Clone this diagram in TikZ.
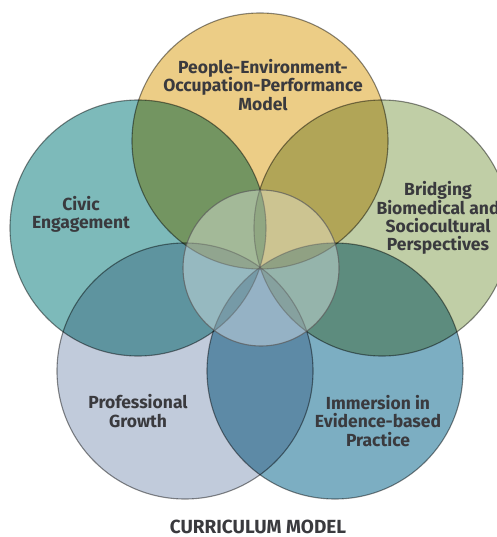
\documentclass[tikz,border=0pt]{standalone}
\usepackage{fontspec}
\setmainfont{Fira Sans}

\definecolor{peopfill}{RGB}{236,205,134}
\definecolor{civicfill}{RGB}{125,186,186}
\definecolor{bridgefill}{RGB}{192,206,166}
\definecolor{proffill}{RGB}{193,203,219}
\definecolor{immerfill}{RGB}{124,174,194}
\definecolor{lbltext}{RGB}{58,58,62}

\begin{document}
\begin{tikzpicture}[x=1pt, y=-1pt,
        ring/.style={draw=black!60, draw opacity=0.75, line width=1.1pt, circle, minimum size=256pt, inner sep=0pt},
        lbl/.style={text=lbltext, font=\bfseries\fontsize{17.5}{18.3}\selectfont, align=center}]
        \useasboundingbox (0,0) rectangle (496,537);
        \clip (0,0) rectangle (496,537);

        % five big circles, multiplied where they overlap
        \begin{scope}[blend group=multiply]
            \node[ring, fill=peopfill] (peop) at (260,141) {};
            \node[ring, fill=civicfill] (civic) at (138,228) {};
            \node[ring, fill=bridgefill] (bridge) at (382,228) {};
            \node[ring, fill=proffill] (prof) at (185,371) {};
            \node[ring, fill=immerfill] (immer) at (335,371) {};
        \end{scope}
        \node[circle, minimum size=156pt, inner sep=0pt, fill=white, fill opacity=0.35, draw=black!65, draw opacity=0.7, line width=1.1pt] (core) at (261,268) {};

        \node[lbl] (peoplbl) at (263,85) {People-Environment-\\Occupation-Performance\\Model};
        \node[lbl] (civiclbl) at (81,214) {Civic\\Engagement};
        \node[lbl] (bridgelbl) at (438,218) {Bridging\\Biomedical and\\Sociocultural\\Perspectives};
        \node[lbl] (proflbl) at (138,411) {Professional\\Growth};
        \node[lbl] (immerlbl) at (378,421) {Immersion in\\Evidence-based\\Practice};
        \node[lbl, font=\bfseries\fontsize{19}{20}\selectfont, anchor=base] (title) at (258,533) {CURRICULUM MODEL};
    \end{tikzpicture}
\end{document}
